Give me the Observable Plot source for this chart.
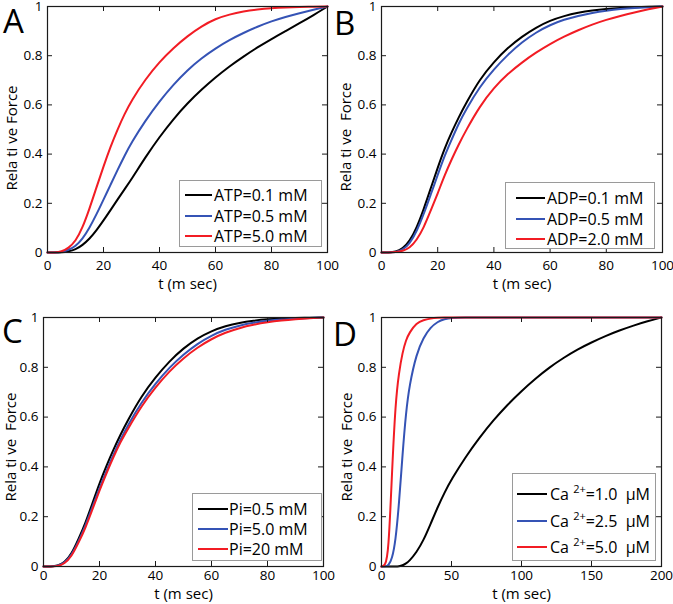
<!DOCTYPE html>
<html>
<head>
<meta charset="utf-8">
<script src="https://cdn.jsdelivr.net/npm/d3@7"></script>
<script src="https://cdn.jsdelivr.net/npm/@observablehq/plot@0.6"></script>
<style>
  body { margin: 0; background: #fff; }
  #wrap { position: relative; width: 673px; height: 604px; font-family: "Open Sans", sans-serif; color: #000; overflow: hidden; }
  .panel { position: absolute; }
  .panel svg { display: block; max-width: none; }
  .letter { position: absolute; font-size: 33px; line-height: 1.4; }
  .ytitle { position: absolute; font-size: 15px; line-height: 1; white-space: pre; transform: translate(-50%, -50%) rotate(-90deg); }
  .legend { position: absolute; border: 1px solid #9a9a9a; background: #fff; box-sizing: border-box; }
  .sw { position: absolute; height: 2px; }
  .lt { position: absolute; font-size: 16px; line-height: 20px; white-space: pre; }
  .lt sup { font-size: 11px; vertical-align: 0; position: relative; top: -7px; }
</style>
</head>
<body>
<div id="wrap"></div>
<script>
// ---------- data ----------
const tABC = [0,2.5,5,7.5,10,12.5,15,17.5,20,22.5,25,27.5,30,35,40,45,50,55,60,65,70,75,80,85,90,95,100];

// Panel A (ATP)
const atpLabels = ["ATP=0.1 mM", "ATP=0.5 mM", "ATP=5.0 mM"];
const atp01 = [0,0,0,0.004,0.012,0.03,0.055,0.09,0.13,0.172,0.215,0.257,0.298,0.388,0.47,0.543,0.607,0.662,0.712,0.757,0.797,0.834,0.868,0.90,0.932,0.965,1];
const atp05 = [0,0,0.001,0.01,0.025,0.055,0.10,0.155,0.215,0.275,0.335,0.393,0.447,0.537,0.615,0.683,0.742,0.79,0.83,0.864,0.893,0.918,0.94,0.958,0.973,0.987,1];
const atp50 = [0,0,0.003,0.018,0.045,0.10,0.178,0.265,0.35,0.43,0.50,0.563,0.618,0.705,0.775,0.832,0.88,0.92,0.95,0.968,0.98,0.988,0.993,0.996,0.998,0.999,1];

// Panel B (ADP)
const adpLabels = ["ADP=0.1 mM", "ADP=0.5 mM", "ADP=2.0 mM"];
const adp01 = [0,0,0.002,0.015,0.045,0.10,0.175,0.26,0.345,0.425,0.49,0.55,0.605,0.705,0.775,0.833,0.878,0.915,0.943,0.962,0.975,0.984,0.99,0.994,0.997,0.999,1];
const adp05 = [0,0,0.001,0.01,0.035,0.085,0.155,0.235,0.315,0.395,0.46,0.525,0.58,0.675,0.745,0.805,0.855,0.895,0.925,0.947,0.962,0.974,0.983,0.99,0.994,0.997,1];
const adp20 = [0,0,0.001,0.006,0.018,0.05,0.10,0.17,0.24,0.315,0.38,0.44,0.495,0.595,0.67,0.727,0.773,0.813,0.848,0.878,0.904,0.927,0.946,0.962,0.976,0.989,1];

// Panel C (Pi)
const piLabels = ["Pi=0.5 mM", "Pi=5.0 mM", "Pi=20 mM"];
const pi05 = [0,0,0.002,0.015,0.05,0.11,0.175,0.255,0.335,0.405,0.47,0.53,0.585,0.685,0.76,0.825,0.877,0.917,0.946,0.966,0.979,0.987,0.993,0.996,0.998,0.999,1];
const pi50 = [0,0,0.002,0.013,0.045,0.10,0.165,0.24,0.315,0.385,0.45,0.51,0.565,0.66,0.735,0.80,0.852,0.895,0.928,0.952,0.968,0.979,0.987,0.992,0.995,0.998,1];
const pi20 = [0,0,0.001,0.011,0.04,0.095,0.155,0.23,0.305,0.375,0.44,0.50,0.55,0.645,0.72,0.785,0.837,0.88,0.914,0.94,0.958,0.971,0.981,0.988,0.993,0.997,1];

// Panel D (Ca2+)
const tD = [0,2.5,5,7.5,10,12.5,15,17.5,20,25,30,35,40,45,50,60,70,80,90,100,110,120,130,140,150,160,170,180,190,200];
const caValues = ["1.0", "2.5", "5.0"];
const ca10 = [0,0,0,0,0,0.001,0.004,0.012,0.023,0.057,0.105,0.17,0.237,0.297,0.35,0.44,0.518,0.588,0.65,0.705,0.755,0.80,0.838,0.872,0.90,0.926,0.948,0.968,0.985,1];
const ca25 = [0,0,0.003,0.03,0.10,0.25,0.45,0.62,0.73,0.855,0.92,0.96,0.983,0.994,0.999,1,1,1,1,1,1,1,1,1,1,1,1,1,1,1];
const ca50 = [0,0.002,0.05,0.38,0.66,0.78,0.86,0.91,0.94,0.978,0.99,0.996,0.999,1,1,1,1,1,1,1,1,1,1,1,1,1,1,1,1,1];

const ticks100 = [0,20,40,60,80,100];
const ticks200 = [0,50,100,150,200];
const yTicks = [0,0.2,0.4,0.6,0.8,1];
const seriesColors = ["#000000", "#3553b5", "#f21c24"];
const yTitles = ["Rela ti ve Force", "Rela ti ve  Force", "Rela ti ve  Force", "Rela ti ve  Force"];
const xTitle = "t (m sec)";

// ---------- layout ----------
const wrap = document.getElementById("wrap");

function panel(cfg) {
  const {t, series, xDomain, xTicks, left, top, width, height, mL, mR, mT, mB, tickPad, xDy} = cfg;
  const plotW = width - mL - mR, plotH = height - mT - mB;
  const ink = "#1a1a1a";
  const marks = [];
  series.forEach((vals, i) => {
    marks.push(Plot.line(vals, {x: (d, j) => t[j], y: d => d, stroke: seriesColors[i], strokeWidth: 2, curve: "basis"}));
  });
  marks.push(
    Plot.frame({stroke: ink, strokeWidth: 1.2}),
    Plot.tickX(xTicks, {x: d => d, stroke: ink, insetTop: plotH - 5}),
    Plot.tickX(xTicks, {x: d => d, stroke: ink, insetBottom: plotH - 5}),
    Plot.tickY(yTicks, {y: d => d, stroke: ink, insetRight: plotW - 5}),
    Plot.tickY(yTicks, {y: d => d, stroke: ink, insetLeft: plotW - 5}),
    Plot.axisX(xTicks, {tickSize: 0, tickPadding: tickPad, tickFormat: d => String(d), label: null, fontSize: 13.5, fill: "#000"}),
    Plot.axisY(yTicks, {tickSize: 0, tickPadding: 5, tickFormat: d => String(d), label: null, fontSize: 13.5, fill: "#000"}),
    Plot.text([xTitle], {text: d => d, frameAnchor: "bottom", dy: xDy, lineAnchor: "middle", fontSize: 15, fill: "#000"})
  );
  const svg = Plot.plot({
    width, height,
    marginLeft: mL, marginRight: mR, marginTop: mT, marginBottom: mB,
    style: {background: "transparent", fontFamily: "'Open Sans', sans-serif", color: "#000", overflow: "visible"},
    x: {domain: xDomain},
    y: {domain: [0, 1]},
    marks
  });
  const div = document.createElement("div");
  div.className = "panel";
  div.style.left = left + "px";
  div.style.top = top + "px";
  div.style.width = width + "px";
  div.style.height = height + "px";
  div.appendChild(svg);
  wrap.appendChild(div);
}

function yTitle(text, cx, cy) {
  const d = document.createElement("div");
  d.className = "ytitle";
  d.textContent = text;
  d.style.left = cx + "px";
  d.style.top = cy + "px";
  wrap.appendChild(d);
}

function letter(ch, x, y) {
  // y is the desired top of the capital letter
  const d = document.createElement("div");
  d.className = "letter";
  d.textContent = ch;
  d.style.left = x + "px";
  d.style.top = (y - 12) + "px";
  wrap.appendChild(d);
}

function legend(cfg) {
  const {left, top, width, height, rows, swL, swW, txtL, labels, html} = cfg;
  const box = document.createElement("div");
  box.className = "legend";
  Object.assign(box.style, {left: left + "px", top: top + "px", width: width + "px", height: height + "px"});
  labels.forEach((lab, i) => {
    const sw = document.createElement("div");
    sw.className = "sw";
    Object.assign(sw.style, {left: swL + "px", top: (rows[i] - 1) + "px", width: swW + "px", background: seriesColors[i]});
    box.appendChild(sw);
    const tx = document.createElement("div");
    tx.className = "lt";
    Object.assign(tx.style, {left: txtL + "px", top: (rows[i] - 10) + "px"});
    if (html) tx.innerHTML = lab; else tx.textContent = lab;
    box.appendChild(tx);
  });
  wrap.appendChild(box);
}

// Panels
panel({t: tABC, series: [atp01, atp05, atp50], xDomain: [0, 100], xTicks: ticks100,
  left: 0, top: 0, width: 336, height: 300, mL: 47, mR: 9, mT: 6, mB: 48, tickPad: 8, xDy: 32});
panel({t: tABC, series: [adp01, adp05, adp20], xDomain: [0, 100], xTicks: ticks100,
  left: 333, top: 0, width: 340, height: 300, mL: 48, mR: 11, mT: 6, mB: 48, tickPad: 8, xDy: 32});
panel({t: tABC, series: [pi05, pi50, pi20], xDomain: [0, 100], xTicks: ticks100,
  left: 0, top: 300, width: 336, height: 304, mL: 43, mR: 13, mT: 17, mB: 38, tickPad: 4, xDy: 28});
panel({t: tD, series: [ca10, ca25, ca50], xDomain: [0, 200], xTicks: ticks200,
  left: 333, top: 300, width: 340, height: 304, mL: 48, mR: 12, mT: 17, mB: 38, tickPad: 4, xDy: 28});

// Y titles
yTitle(yTitles[0], 11, 138);
yTitle(yTitles[1], 345, 137);
yTitle(yTitles[2], 10, 447);
yTitle(yTitles[3], 346, 447);

// Panel letters (x, cap top)
letter("A", 3, 10);
letter("B", 334, 12);
letter("C", 2, 320);
letter("D", 333, 323);

// Legends
legend({left: 179, top: 180, width: 143, height: 67, rows: [14, 35, 55], swL: 5, swW: 27, txtL: 34, labels: atpLabels});
legend({left: 505, top: 182, width: 150, height: 67, rows: [15, 36, 56], swL: 10, swW: 29, txtL: 41, labels: adpLabels});
legend({left: 192, top: 493, width: 130, height: 68, rows: [15, 35, 55], swL: 5, swW: 30, txtL: 36, labels: piLabels});
legend({left: 512, top: 473, width: 144, height: 88, rows: [20, 47, 73], swL: 4, swW: 30, txtL: 37, html: true,
  labels: caValues.map(v => "Ca <sup>2+</sup>=" + v + "  \u03bcM")});
</script>
</body>
</html>
